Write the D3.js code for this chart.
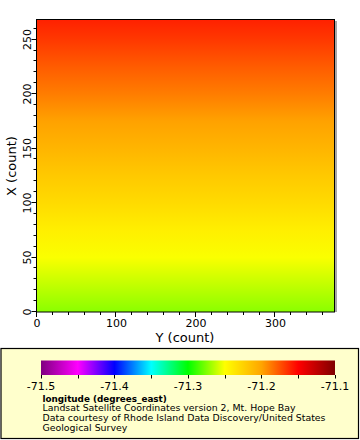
<!DOCTYPE html>
<html>
<head>
<meta charset="utf-8">
<script src="https://cdn.jsdelivr.net/npm/d3@7"></script>
<style>
html,body{margin:0;padding:0;background:#fff;}
svg{display:block;font-family:"DejaVu Sans",sans-serif;}
</style>
</head>
<body>
<svg id="chart" width="360" height="440"></svg>
<script>
// ---- data ----
const rows = [0, 25, 50, 75, 100, 125, 150, 175, 200, 225, 250, 268];
const longitude = [-71.273, -71.262, -71.251, -71.241, -71.230, -71.220, -71.209, -71.199, -71.188, -71.178, -71.167, -71.160];
const xExtent = [0, 375];   // Y (count)
const yExtent = [0, 268];   // X (count)
const xTicks = [0, 100, 200, 300];
const yTicks = [0, 50, 100, 150, 200, 250];
const cbStops = [-71.5, -71.45, -71.4, -71.35, -71.3, -71.25, -71.2, -71.15, -71.1];
const cbColors = ["#800080", "#ff00ff", "#0000ff", "#00ffff", "#00ff00", "#ffff00", "#ffa500", "#ff0000", "#800000"];
const cbTickLabels = [-71.5, -71.4, -71.3, -71.2, -71.1];
const legendTitle = "longitude (degrees_east)";
const legendLines = ["Landsat Satellite Coordinates version 2, Mt. Hope Bay",
  "Data courtesy of Rhode Island Data Discovery/United States",
  "Geological Survey"];

// ---- layout ----
const svg = d3.select("#chart");
const L = 37, R = 335, T = 20, B = 312;
const x = d3.scaleLinear().domain(xExtent).range([L, R]);
const y = d3.scaleLinear().domain(yExtent).range([B, T]);
const color = d3.scaleLinear().domain(cbStops).range(cbColors).interpolate(d3.interpolateRgb);

const defs = svg.append("defs");
const g1 = defs.append("linearGradient").attr("id", "field")
  .attr("gradientUnits", "userSpaceOnUse")
  .attr("x1", 0).attr("x2", 0).attr("y1", y(yExtent[0])).attr("y2", y(yExtent[1]));
rows.forEach((r, i) => {
  g1.append("stop").attr("offset", (r - yExtent[0]) / (yExtent[1] - yExtent[0]))
    .attr("stop-color", color(longitude[i]));
});

// field
svg.append("rect").attr("x", x(xExtent[0])).attr("y", y(yExtent[1]))
  .attr("width", x(xExtent[1]) - x(xExtent[0])).attr("height", y(yExtent[0]) - y(yExtent[1]))
  .attr("fill", "url(#field)");
// shadow on right
svg.append("line").attr("x1", R + 1).attr("x2", R + 1).attr("y1", T + 1).attr("y2", B)
  .attr("stroke", "#888").attr("stroke-width", 1.5);
// frame
svg.append("rect").attr("x", L - 0.5).attr("y", T - 0.5).attr("width", R - L).attr("height", B - T + 0.5)
  .attr("fill", "none").attr("stroke", "#000").attr("stroke-width", 1);

// axes
const xAxisG = svg.append("g");
d3.range(0, 361, 20).forEach(v => {
  const major = v % 100 === 0;
  xAxisG.append("line").attr("x1", Math.round(x(v)) - 0.5).attr("x2", Math.round(x(v)) - 0.5)
    .attr("y1", B).attr("y2", B + (major ? 5 : 3)).attr("stroke", "#000");
});
xAxisG.selectAll("text").data(xTicks).join("text")
  .attr("x", d => x(d)).attr("y", 327).attr("text-anchor", "middle")
  .attr("font-size", 11).text(d => d);

const yAxisG = svg.append("g");
d3.range(0, 261, 10).forEach(v => {
  const major = v % 50 === 0;
  yAxisG.append("line").attr("y1", Math.round(y(v)) - 0.5).attr("y2", Math.round(y(v)) - 0.5)
    .attr("x1", L - 0.5).attr("x2", L - 0.5 - (major ? 5 : 3)).attr("stroke", "#000");
});
yAxisG.selectAll("text").data(yTicks).join("text")
  .attr("transform", d => `translate(31,${y(d)}) rotate(-90)`).attr("text-anchor", "middle")
  .attr("font-size", 11).text(d => d);

svg.append("text").attr("x", 185).attr("y", 342).attr("text-anchor", "middle")
  .attr("font-size", 13).text("Y (count)");
svg.append("text").attr("transform", `translate(16,${(T + B) / 2}) rotate(-90)`)
  .attr("text-anchor", "middle").attr("font-size", 13).text("X (count)");

// legend box
svg.append("rect").attr("x", 1).attr("y", 348.5).attr("width", 357.5).attr("height", 90)
  .attr("fill", "#ffffcc").attr("stroke", "#000").attr("stroke-width", 1.2);

const cb = d3.scaleLinear().domain([cbStops[0], cbStops[cbStops.length - 1]]).range([41, 335]);
const g2 = defs.append("linearGradient").attr("id", "cbar")
  .attr("gradientUnits", "userSpaceOnUse")
  .attr("x1", cb.range()[0]).attr("x2", cb.range()[1]).attr("y1", 0).attr("y2", 0);
cbStops.forEach((s, i) => {
  g2.append("stop").attr("offset", (cb(s) - cb.range()[0]) / (cb.range()[1] - cb.range()[0]))
    .attr("stop-color", cbColors[i]);
});
svg.append("rect").attr("x", cb.range()[0]).attr("y", 360.5).attr("width", cb.range()[1] - cb.range()[0])
  .attr("height", 14.5).attr("fill", "url(#cbar)");
cbStops.forEach(s => {
  svg.append("line").attr("x1", Math.round(cb(s)) + 0.5).attr("x2", Math.round(cb(s)) + 0.5)
    .attr("y1", 375).attr("y2", 378.5).attr("stroke", "#000");
});
svg.selectAll(".cbl").data(cbTickLabels).join("text").attr("class", "cbl")
  .attr("x", d => cb(d)).attr("y", 390).attr("text-anchor", "middle")
  .attr("font-size", 11).text(d => d3.format(".1f")(d).replace("\u2212", "-"));

// legend caption
svg.append("text").attr("x", 42.5).attr("y", 401.5).attr("font-size", 8.8).attr("font-weight", "bold")
  .text(legendTitle);
legendLines.forEach((t, i) => {
  svg.append("text").attr("x", 42.5).attr("y", 411.3 + i * 9.7).attr("font-size", 9.4).text(t);
});
</script>
</body>
</html>
